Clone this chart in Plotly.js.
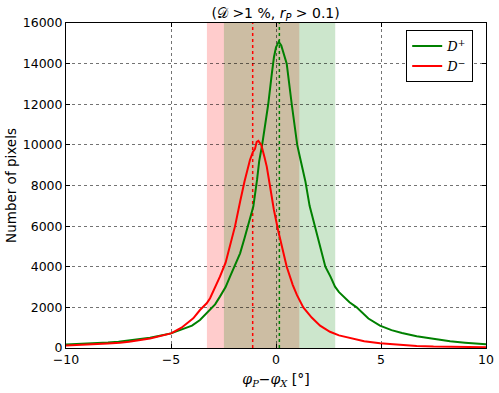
<!DOCTYPE html>
<html>
<head>
<meta charset="utf-8">
<script src="https://cdn.plot.ly/plotly-3.0.1.min.js"></script>
<style>html,body{margin:0;padding:0;background:#fff}#chart{width:499px;height:393px}</style>
</head>
<body>
<div id="chart"></div>
<script>
// D+ (green) histogram
const xPlus = [-10, -9, -8, -7.5, -7, -6, -5, -4.5, -4, -3.62, -3.3, -3.14, -2.9, -2.67, -2.4, -2.19, -1.95, -1.71, -1.5, -1.24, -1.08, -0.9, -0.8, -0.66, -0.5, -0.37, -0.2, -0.1, 0.0, 0.13, 0.25, 0.4, 0.51, 0.75, 1.01, 1.17, 1.4, 1.6, 1.85, 2.1, 2.35, 2.6, 2.81, 3.0, 3.5, 3.84, 4.4, 4.95, 5.5, 6, 6.7, 7.33, 8.29, 9, 10];
const yPlus = [170, 210, 270, 310, 370, 500, 720, 900, 1100, 1380, 1710, 1870, 2150, 2530, 3000, 3510, 4050, 4660, 5400, 6300, 6960, 8300, 9200, 10000, 11000, 12000, 13500, 14300, 14800, 15080, 14900, 14400, 14000, 12000, 10000, 9255, 8200, 7000, 6000, 5000, 4000, 3500, 3020, 2750, 2250, 2000, 1450, 1100, 880, 740, 580, 480, 330, 260, 180];
// D- (red) histogram
const xMinus = [-10, -9, -8, -7.43, -7, -6, -5, -4.5, -3.94, -3.62, -3.3, -3.14, -2.9, -2.67, -2.4, -2.19, -1.95, -1.71, -1.5, -1.24, -1.1, -1.0, -0.92, -0.84, -0.7, -0.55, -0.44, -0.29, -0.1, 0.1, 0.3, 0.51, 0.8, 1.0, 1.3, 1.7, 2.1, 2.57, 3, 3.52, 4.2, 4.95, 6, 6.7, 7.5, 8.29, 9, 10];
const yMinus = [120, 160, 220, 260, 310, 470, 720, 1000, 1460, 1870, 2200, 2450, 2950, 3510, 4200, 4990, 6000, 7200, 8200, 9255, 9650, 9800, 10150, 10200, 10000, 9400, 8930, 8000, 6800, 5800, 4900, 4000, 3100, 2600, 2000, 1500, 1100, 800, 620, 480, 330, 230, 140, 100, 70, 60, 50, 40];
// shaded intervals and medians
const bandMinus = [-3.29, 1.11];
const bandPlus = [-2.48, 2.82];
const medianMinus = -1.11;
const medianPlus = 0.16;
const xTicks = [-10, -5, 0, 5, 10];
const yTicks = [0, 2000, 4000, 6000, 8000, 10000, 12000, 14000, 16000];
const yTickText = ['0', '2000', '4000', '6000', '8000', '10000', '12000', '14000', '16000'];

const traces = [
  {x: xPlus, y: yPlus, type: 'scatter', mode: 'lines', name: '<i>D</i><sup>+</sup>',
   line: {color: '#008000', width: 2}},
  {x: xMinus, y: yMinus, type: 'scatter', mode: 'lines', name: '<i>D</i><sup>−</sup>',
   line: {color: '#ff0000', width: 2}}
];

const shapes = [
  {type: 'rect', xref: 'x', yref: 'paper', x0: bandMinus[0], x1: bandMinus[1], y0: 0, y1: 1,
   fillcolor: 'rgba(255,0,0,0.2)', line: {width: 0}, layer: 'below'},
  {type: 'rect', xref: 'x', yref: 'paper', x0: bandPlus[0], x1: bandPlus[1], y0: 0, y1: 1,
   fillcolor: 'rgba(0,128,0,0.2)', line: {width: 0}, layer: 'below'},
  {type: 'line', xref: 'x', yref: 'paper', x0: medianMinus, x1: medianMinus, y0: 0, y1: 1,
   line: {color: '#ff0000', width: 1.5, dash: 'dot'}, layer: 'below'},
  {type: 'line', xref: 'x', yref: 'paper', x0: medianPlus, x1: medianPlus, y0: 0, y1: 1,
   line: {color: '#008000', width: 1.5, dash: 'dot'}, layer: 'below'}
];

const layout = {
  width: 499, height: 393,
  margin: {l: 66, r: 13, t: 23, b: 45},
  paper_bgcolor: '#fff', plot_bgcolor: '#fff',
  font: {family: 'DejaVu Sans', size: 12, color: '#000'},
  title: {text: '(𝒟 >1 %, <i>r</i><sub><i>P</i></sub> > 0.1)', font: {family: 'DejaVu Sans', size: 14},
          x: 0.5523, xanchor: 'center', y: 0.966, yanchor: 'middle'},
  showlegend: true,
  legend: {x: 0.81, y: 0.978, xanchor: 'left', yanchor: 'top', bordercolor: '#000', borderwidth: 1,
           bgcolor: '#fff', font: {family: 'DejaVu Serif', size: 13}},
  xaxis: {range: [-10, 10], tickvals: xTicks, ticks: 'inside', ticklen: 4, tickcolor: '#000',
          showline: true, linecolor: '#000', linewidth: 1, mirror: 'ticks', zeroline: false,
          showgrid: true, gridcolor: 'rgba(0,0,0,0.55)', griddash: 'dot', gridwidth: 1,
          tickfont: {size: 12.5},
          title: {text: '<i>φ</i><sub><i>P</i></sub>−<i>φ</i><sub><i>X</i></sub> [°]', font: {family: 'DejaVu Serif', size: 14}, standoff: 8}},
  yaxis: {range: [0, 16000], tickvals: yTicks, ticktext: yTickText, ticks: 'inside', ticklen: 4, tickcolor: '#000',
          showline: true, linecolor: '#000', linewidth: 1, mirror: 'ticks', zeroline: false,
          showgrid: true, gridcolor: 'rgba(0,0,0,0.55)', griddash: 'dot', gridwidth: 1,
          tickfont: {size: 12.5},
          title: {text: 'Number of pixels', font: {family: 'DejaVu Sans', size: 13.5}, standoff: 3}},
  shapes: shapes
};

Plotly.newPlot('chart', traces, layout, {displayModeBar: false, staticPlot: true});
</script>
</body>
</html>
